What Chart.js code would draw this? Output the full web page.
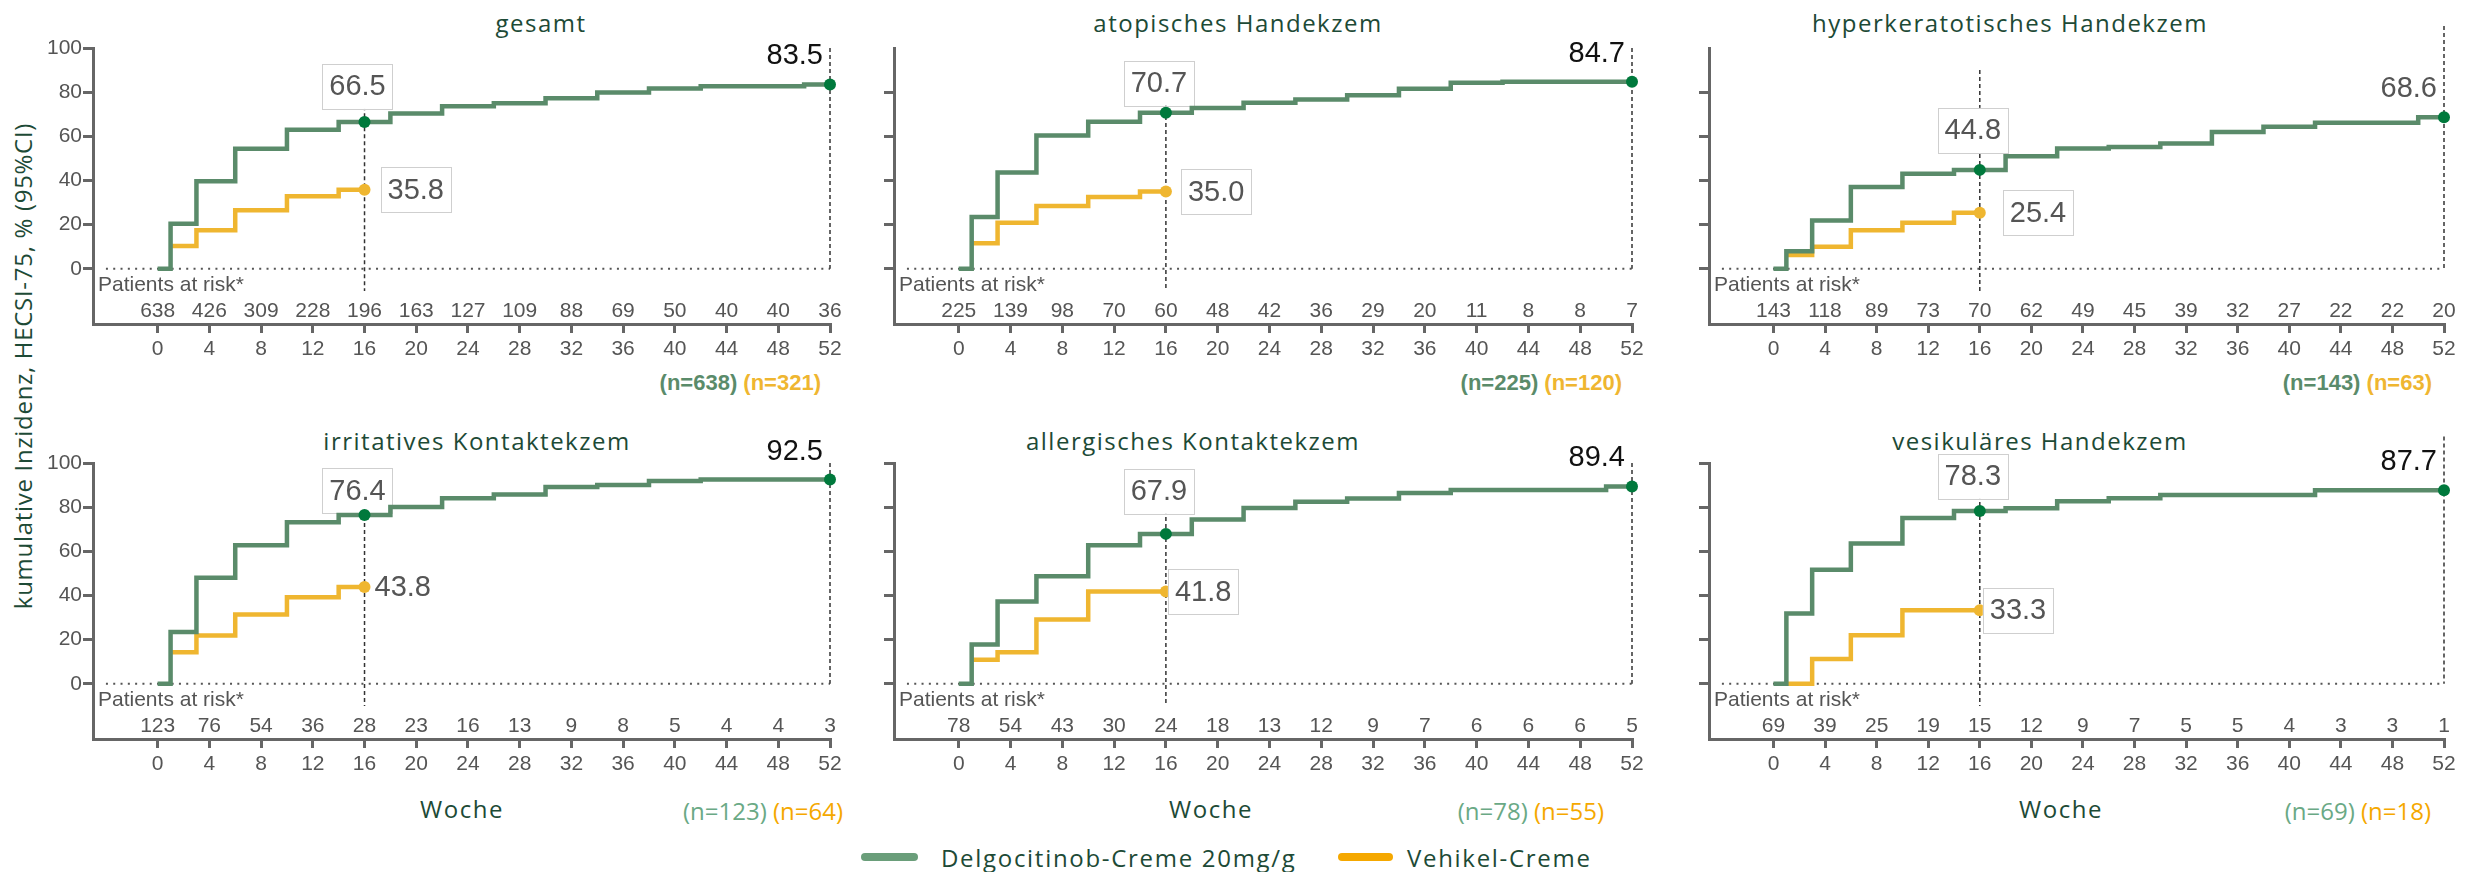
<!DOCTYPE html>
<html lang="de">
<head>
<meta charset="utf-8">
<title>HECSI-75 kumulative Inzidenz</title>
<script src="https://cdn.jsdelivr.net/npm/chart.js@4.4.0/dist/chart.umd.min.js"></script>
<style>
    html, body { margin: 0; padding: 0; background: #fff; }
    #stage { position: relative; width: 2471px; height: 872px; overflow: hidden; font-family: "Open Sans", sans-serif; }
    #stage canvas { position: absolute; }
    .txt { position: absolute; white-space: nowrap; transform: translate(-50%, -50%); }
    .right { transform: translate(-100%, -50%); }
    .title, .woche { color: #1d4a36; font-size: 24px; letter-spacing: 1.5px; }
    .ytitle { color: #1d4a36; font-size: 24px; letter-spacing: 0.7px; transform: translate(-50%, -50%) rotate(-90deg); }
    .ntop { font-family: "Liberation Sans", sans-serif; font-weight: bold; font-size: 22px; }
    .nbottom { font-size: 24px; }
    .swatch { position: absolute; height: 8px; border-radius: 4px; }
    .legend { color: #1d4a36; font-size: 24px; letter-spacing: 1.7px; transform: translate(0, -50%); }
</style>
</head>
<body>
<div id="stage"></div>
<script>
// Panels
const panelTitles = ['gesamt', 'atopisches Handekzem', 'hyperkeratotisches Handekzem',
    'irritatives Kontaktekzem', 'allergisches Kontaktekzem', 'vesikuläres Handekzem'];

// Achsen
const weekTicks = [0, 4, 8, 12, 16, 20, 24, 28, 32, 36, 40, 44, 48, 52];
const yTicks = [0, 20, 40, 60, 80, 100];

// Wochen, an denen die Stufen liegen
const delgoWeeks = [0, 1, 3, 6, 10, 14, 18, 22, 26, 30, 34, 38, 42, 50, 52];
const vehikelWeeks = [1, 3, 6, 10, 14, 16];

// Delgocitinob-Creme 20 mg/g (kumulative Inzidenz in %)
const delgoGesamt = [0, 20.4, 39.7, 54.4, 63.0, 66.5, 70.3, 73.6, 75.0, 77.2, 79.9, 81.7, 82.7, 83.5, 83.5];
const delgoAtopisch = [0, 23.5, 43.6, 60.4, 66.6, 70.7, 72.8, 75.2, 76.7, 78.6, 81.5, 84.3, 84.7, 84.7, 84.7];
const delgoHyperkeratotisch = [0, 8.0, 21.9, 37.0, 43.0, 44.8, 51.0, 54.5, 55.2, 56.8, 61.9, 64.3, 66.1, 68.6, 68.6];
const delgoIrritativ = [0, 23.5, 48.0, 62.7, 73.2, 76.4, 80.1, 84.0, 85.7, 89.1, 90.0, 91.9, 92.5, 92.5, 92.5];
const delgoAllergisch = [0, 17.8, 37.3, 48.7, 62.7, 67.9, 74.4, 79.6, 82.4, 83.9, 86.4, 87.8, 87.8, 89.4, 89.4];
const delgoVesikulaer = [0, 31.8, 51.7, 63.5, 75.1, 78.3, 79.5, 82.7, 84.0, 85.5, 85.5, 85.5, 87.7, 87.7, 87.7];

// Vehikel-Creme
const vehikelGesamt = [10.3, 17.5, 26.5, 32.9, 35.8, 35.8];
const vehikelAtopisch = [11.6, 20.8, 28.4, 32.5, 35.0, 35.0];
const vehikelHyperkeratotisch = [6.2, 10.0, 17.5, 20.8, 25.4, 25.4];
const vehikelIrritativ = [14.3, 21.9, 31.4, 39.2, 43.8, 43.8];
const vehikelAllergisch = [10.9, 14.3, 29.1, 41.8, 41.8, 41.8];
const vehikelVesikulaer = [0, 11.2, 22.0, 33.3, 33.3, 33.3];

// Beschriftete Werte
const delgoWeek16 = [66.5, 70.7, 44.8, 76.4, 67.9, 78.3];
const delgoWeek52 = [83.5, 84.7, 68.6, 92.5, 89.4, 87.7];
const vehikelWeek16 = [35.8, 35.0, 25.4, 43.8, 41.8, 33.3];

// Patients at risk
const riskGesamt = [638, 426, 309, 228, 196, 163, 127, 109, 88, 69, 50, 40, 40, 36];
const riskAtopisch = [225, 139, 98, 70, 60, 48, 42, 36, 29, 20, 11, 8, 8, 7];
const riskHyperkeratotisch = [143, 118, 89, 73, 70, 62, 49, 45, 39, 32, 27, 22, 22, 20];
const riskIrritativ = [123, 76, 54, 36, 28, 23, 16, 13, 9, 8, 5, 4, 4, 3];
const riskAllergisch = [78, 54, 43, 30, 24, 18, 13, 12, 9, 7, 6, 6, 6, 5];
const riskVesikulaer = [69, 39, 25, 19, 15, 12, 9, 7, 5, 5, 4, 3, 3, 1];

const nDelgo = [638, 225, 143, 123, 78, 69];
const nVehikel = [321, 120, 63, 64, 55, 18];

const delgoSeries = [delgoGesamt, delgoAtopisch, delgoHyperkeratotisch, delgoIrritativ, delgoAllergisch, delgoVesikulaer];
const vehikelSeries = [vehikelGesamt, vehikelAtopisch, vehikelHyperkeratotisch, vehikelIrritativ, vehikelAllergisch, vehikelVesikulaer];
const riskSeries = [riskGesamt, riskAtopisch, riskHyperkeratotisch, riskIrritativ, riskAllergisch, riskVesikulaer];

// Layout (Pixel)
const colLeft = [93, 894, 1709];
const colRight = [830, 1632, 2444];
const rowTop = [48, 463];
const rowAxis = [324, 739];
const titlePos = [[541, 22], [1238, 22], [2010, 22], [477, 440], [1193, 440], [2040, 440]];
const wochePos = [462, 1211, 2061];
const nRight = [821, 1622, 2432, 843, 1604, 2431];

// Feinheiten je Panel
const boxLift = [13, 7, 17, 2, 20, 12];
const vehikelGap = [16, 15, 23, 10, 2, 3];
const vehikelBoxed = [true, true, true, false, true, true];
const line16Top = [80, 85, 90, 95, 85, 95];
const line52Top = [100, 100, 110, 100, 100, 112];
const finalColor = ['#111', '#111', '#555', '#111', '#111', '#111'];
const showYLabels = [true, false, false, true, false, false];
const showTopTick = [true, false, false, true, true, true];

const GREEN = '#5a8b6a';
const GREEN_DOT = '#00793c';
const ORANGE = '#efb630';
const AXIS = '#666';
const TEXT = '#555';
const PAD_L = 80, PAD_T = 50, PAD_R = 45, PAD_B = 45;

const stage = document.getElementById('stage');

function addText(cls, html, x, y) {
    const el = document.createElement('div');
    el.className = 'txt ' + cls;
    el.innerHTML = html;
    el.style.left = x + 'px';
    el.style.top = y + 'px';
    stage.appendChild(el);
    return el;
}

function vline(ctx, x, y1, y2) {
    ctx.beginPath();
    ctx.moveTo(x, y1);
    ctx.lineTo(x, y2);
    ctx.stroke();
}

function boxedText(ctx, text, cx, cy) {
    const w = ctx.measureText(text).width + 14;
    const h = 45;
    ctx.fillStyle = '#fff';
    ctx.fillRect(cx - w / 2, cy - h / 2, w, h);
    ctx.strokeStyle = '#cfcfcf';
    ctx.lineWidth = 1;
    ctx.strokeRect(Math.round(cx - w / 2) + 0.5, Math.round(cy - h / 2) + 0.5, Math.round(w), h);
    ctx.fillStyle = TEXT;
    ctx.fillText(text, cx, cy + 1);
}

// Hilfslinien, Patients at risk und Wertebeschriftungen
const overlayPlugin = {
    id: 'overlay',
    beforeDatasetsDraw(chart, args, opts) {
        const { ctx, chartArea } = chart;
        const x = chart.scales.x, y = chart.scales.y;
        const i = opts.panel;
        const y0 = y.getPixelForValue(0);
        const x16 = x.getPixelForValue(16);
        ctx.save();

        ctx.strokeStyle = '#555';
        ctx.lineWidth = 2;
        ctx.setLineDash([2, 5.3]);
        ctx.beginPath();
        ctx.moveTo(x.getPixelForValue(-4), y0);
        ctx.lineTo(x.getPixelForValue(52), y0);
        ctx.stroke();

        ctx.strokeStyle = '#333';
        ctx.lineWidth = 1.5;
        ctx.setLineDash([4, 3]);
        vline(ctx, x16, y.getPixelForValue(line16Top[i]), y.getPixelForValue(-10));
        vline(ctx, x.getPixelForValue(52), y.getPixelForValue(line52Top[i]), y0);
        ctx.setLineDash([]);

        ctx.font = '21px "Liberation Sans"';
        ctx.fillStyle = TEXT;
        ctx.textBaseline = 'middle';
        ctx.textAlign = 'left';
        ctx.fillText('Patients at risk*', chartArea.left + 5, y0 + 16);
        ctx.textAlign = 'center';
        riskSeries[i].forEach((n, k) => {
            ctx.fillText(String(n), x.getPixelForValue(weekTicks[k]), chartArea.bottom - 13);
        });

        // Woche 16, Delgocitinob (Box liegt unter dem Punkt)
        ctx.font = '29px "Liberation Sans"';
        const gy = y.getPixelForValue(delgoWeek16[i]);
        boxedText(ctx, delgoWeek16[i].toFixed(1), x16 - 7, gy - boxLift[i] - 22.5);
        ctx.restore();
    },
    afterDatasetsDraw(chart, args, opts) {
        const { ctx } = chart;
        const x = chart.scales.x, y = chart.scales.y;
        const i = opts.panel;
        const x16 = x.getPixelForValue(16);
        const x52 = x.getPixelForValue(52);
        ctx.save();
        ctx.font = '29px "Liberation Sans"';
        ctx.textBaseline = 'middle';
        ctx.textAlign = 'center';

        // Woche 16, Vehikel
        const oy = y.getPixelForValue(vehikelWeek16[i]);
        const oText = vehikelWeek16[i].toFixed(1);
        const ow = ctx.measureText(oText).width + 14;
        if (vehikelBoxed[i]) {
            boxedText(ctx, oText, x16 + vehikelGap[i] + ow / 2, oy);
        } else {
            ctx.fillStyle = TEXT;
            ctx.textAlign = 'left';
            ctx.fillText(oText, x16 + vehikelGap[i], oy + 1);
        }

        // Woche 52
        ctx.fillStyle = finalColor[i];
        ctx.textAlign = 'right';
        ctx.fillText(delgoWeek52[i].toFixed(1), x52 - 7, y.getPixelForValue(delgoWeek52[i]) - 28);
        ctx.restore();
    }
};

function makeChart(i) {
    const col = i % 3, row = Math.floor(i / 3);
    const canvas = document.createElement('canvas');
    const w = colRight[col] - colLeft[col] + PAD_L + PAD_R;
    const h = rowAxis[row] - rowTop[row] + PAD_T + PAD_B;
    canvas.width = w;
    canvas.height = h;
    canvas.style.width = w + 'px';
    canvas.style.height = h + 'px';
    canvas.style.left = (colLeft[col] - PAD_L) + 'px';
    canvas.style.top = (rowTop[row] - PAD_T) + 'px';
    stage.appendChild(canvas);

    const delgoPoints = delgoWeeks.map((wk, k) => ({ x: wk, y: delgoSeries[i][k] }));
    const vehikelPoints = vehikelWeeks.map((wk, k) => ({ x: wk, y: vehikelSeries[i][k] }));
    const ticksY = showTopTick[i] ? yTicks : yTicks.filter(v => v < 100);

    const gridOpts = {
        display: true, drawOnChartArea: false, drawTicks: true,
        tickLength: 10, tickWidth: 3, tickColor: AXIS, color: AXIS, lineWidth: 3
    };

    return new Chart(canvas.getContext('2d'), {
        type: 'line',
        data: {
            datasets: [
                { type: 'scatter', data: [{ x: 16, y: delgoWeek16[i] }, { x: 52, y: delgoWeek52[i] }],
                  pointRadius: 6, backgroundColor: GREEN_DOT, borderWidth: 0, clip: false },
                { type: 'scatter', data: [{ x: 16, y: vehikelWeek16[i] }],
                  pointRadius: 6, backgroundColor: ORANGE, borderWidth: 0, clip: false },
                { data: delgoPoints, borderColor: GREEN, borderWidth: 4.5, stepped: 'before',
                  pointRadius: 0, fill: false, clip: false, borderJoinStyle: 'miter' },
                { data: vehikelPoints, borderColor: ORANGE, borderWidth: 4.5, stepped: 'before',
                  pointRadius: 0, fill: false, clip: false, borderJoinStyle: 'miter' }
            ]
        },
        options: {
            responsive: false,
            animation: false,
            devicePixelRatio: 1,
            layout: { padding: { left: 0, top: PAD_T, right: PAD_R, bottom: 0 } },
            plugins: {
                legend: { display: false },
                tooltip: { enabled: false },
                overlay: { panel: i }
            },
            scales: {
                x: {
                    type: 'linear', min: -5, max: 52, bounds: 'data',
                    afterBuildTicks: s => { s.ticks = weekTicks.map(v => ({ value: v })); },
                    afterFit: s => { s.height = PAD_B; },
                    ticks: { color: TEXT, padding: 4, maxRotation: 0, autoSkip: false,
                             font: { family: 'Liberation Sans', size: 21 } },
                    grid: Object.assign({}, gridOpts, { tickLength: 9 }),
                    border: { display: true, color: AXIS, width: 3 }
                },
                y: {
                    type: 'linear', min: -25, max: 100, bounds: 'data',
                    afterBuildTicks: s => { s.ticks = ticksY.map(v => ({ value: v })); },
                    afterFit: s => { s.width = PAD_L; },
                    ticks: { display: showYLabels[i], color: TEXT, padding: 1,
                             font: { family: 'Liberation Sans', size: 21 } },
                    grid: gridOpts,
                    border: { display: true, color: AXIS, width: 3 }
                }
            }
        },
        plugins: [overlayPlugin]
    });
}

// Texte
panelTitles.forEach((t, i) => addText('title', t, titlePos[i][0], titlePos[i][1]));
wochePos.forEach(x => addText('woche', 'Woche', x, 808));
nDelgo.forEach((n, i) => {
    const top = i < 3;
    const g = top ? GREEN : '#6aa985';
    const o = top ? ORANGE : '#f5a800';
    addText((top ? 'ntop' : 'nbottom') + ' right',
        '<span style="color:' + g + '">(n=' + n + ')</span> <span style="color:' + o + '">(n=' + nVehikel[i] + ')</span>',
        nRight[i], top ? 383 : 810);
});
addText('ytitle', 'kumulative Inzidenz, HECSI-75, % (95%CI)', 22, 366);

// Legende
function addSwatch(x, w, color) {
    const el = document.createElement('div');
    el.className = 'swatch';
    el.style.left = x + 'px';
    el.style.top = '853px';
    el.style.width = w + 'px';
    el.style.background = color;
    stage.appendChild(el);
}
addSwatch(861, 57, '#6a9e7a');
addText('legend', 'Delgocitinob-Creme 20mg/g', 941, 857);
addSwatch(1338, 55, '#f5a800');
addText('legend', 'Vehikel-Creme', 1407, 857);

for (let i = 0; i < 6; i++) makeChart(i);
</script>
</body>
</html>
